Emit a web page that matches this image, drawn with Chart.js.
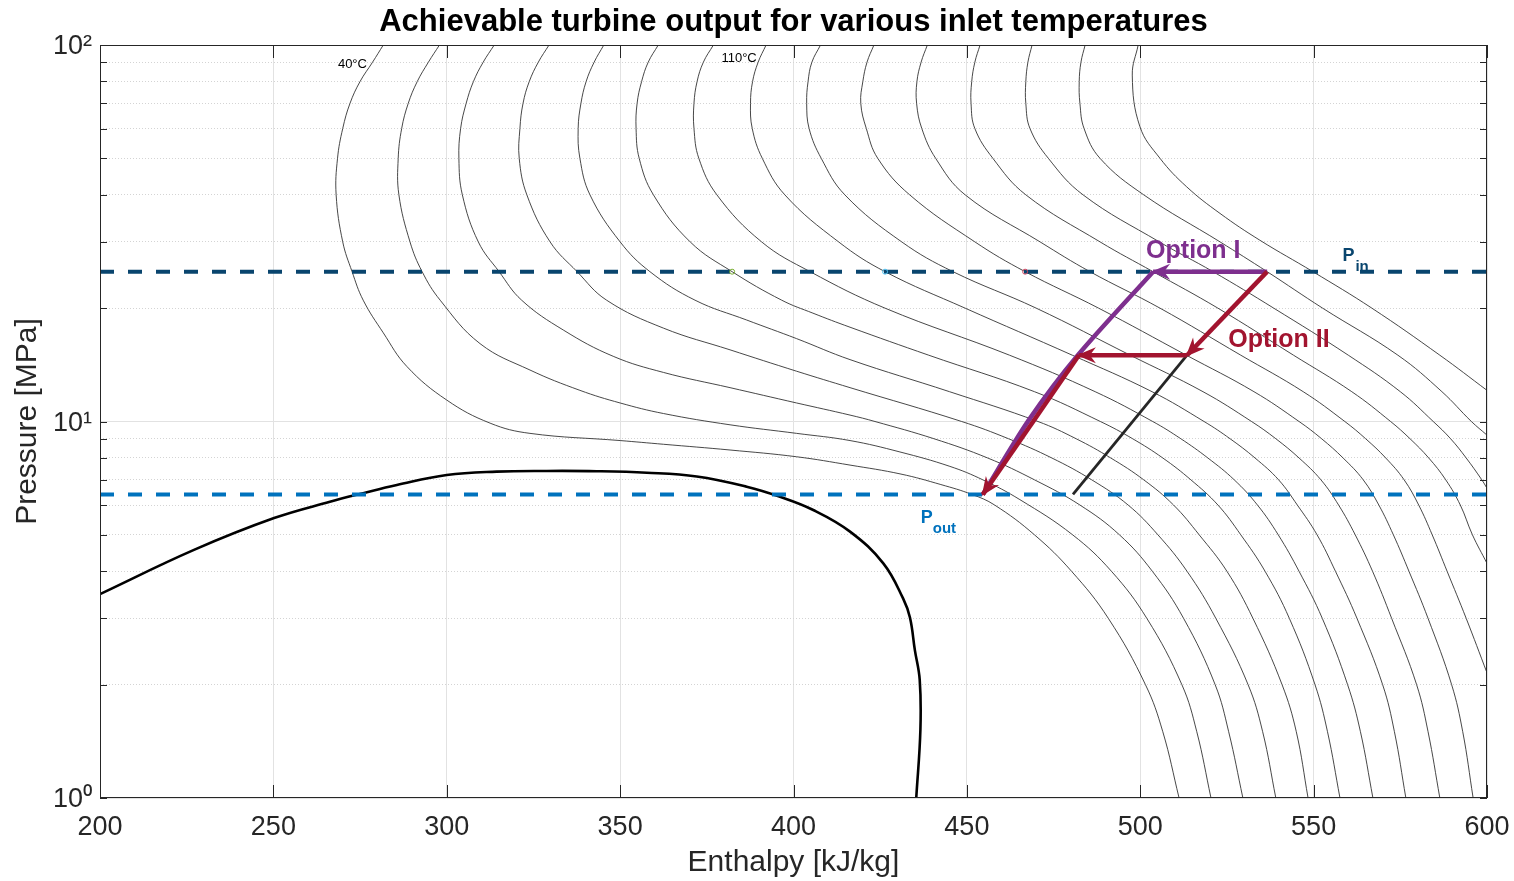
<!DOCTYPE html>
<html>
<head>
<meta charset="utf-8">
<title>Achievable turbine output</title>
<script src="https://cdn.jsdelivr.net/npm/chart.js@4.4.1/dist/chart.umd.min.js"></script>
<style>
  html, body { margin: 0; padding: 0; background: #fff; }
</style>
</head>
<body>
<canvas id="myChart" width="1514" height="881"></canvas>
<script>
// enthalpy [kJ/kg], pressure [MPa]
var chartTitle = 'Achievable turbine output for various inlet temperatures';
var xTicks = [200, 250, 300, 350, 400, 450, 500, 550, 600];
var yTicks = [1, 2, 3, 4, 5, 6, 7, 8, 9, 10, 20, 30, 40, 50, 60, 70, 80, 90, 100];
var yLabels = {1: '10\u2070', 10: '10\u00b9', 100: '10\u00b2'};

// isotherms, 40°C ... 180°C, [h, P]
var t40 = [[281.7,100],[278.6,90],[275.0,80],[272.1,70],[270.0,60],[268.5,50],[268.1,40],[270.0,30],[272.7,25],[275.9,21.0],[281.7,17.2],[288.5,14.0],[300.0,11.4],[312.5,9.9],[324.0,9.3],[350.0,8.9],[362.5,8.7],[381.7,8.4],[400.9,8.06],[416.3,7.66],[431.0,7.25],[442.5,6.8],[451.5,6.4],[458.0,6.0],[469.5,5.0],[480.2,4.0],[490.8,3.0],[501.5,2.0],[506.5,1.5],[511.2,1.0]];
var t50 = [[297.9,100],[294.7,90],[291.5,80],[288.9,70],[287.0,60],[286.0,50],[286.2,40],[289.4,30],[292.9,25],[298.1,21.0],[309.6,16.1],[324.0,13.7],[338.4,12.1],[350.0,11.2],[362.5,10.5],[381.7,9.8],[400.9,9.3],[416.3,8.9],[430.7,8.3],[445.1,7.6],[454.6,7.0],[465.3,6.2],[480.5,5.0],[491.7,4.0],[501.9,3.0],[512.0,2.0],[516.3,1.5],[520.4,1.0]];
var t60 = [[313.7,100],[310.5,90],[307.7,80],[305.6,70],[304.0,60],[303.5,50],[304.5,40],[309.1,30],[315.1,25],[321.6,21.0],[333.6,17.5],[348.0,14.9],[362.5,13.5],[381.7,12.3],[400.9,11.2],[416.3,10.4],[423.5,10],[440.5,9],[456.0,8],[469.5,7],[482.6,6],[494.0,5],[503.5,4],[512.5,3],[521.6,2],[525.5,1.5],[529.6,1]];
var t70 = [[329.5,100],[326.4,90],[323.8,80],[322.0,70],[321.1,60],[320.9,50],[323.1,40],[329.8,30],[337.6,25],[346.1,21.0],[362.5,17.7],[381.7,15.5],[400.9,13.6],[416.3,12.3],[448.5,10],[462.0,9],[474.5,8],[486.0,7],[496.5,6],[505.1,5],[513.5,4],[521.8,3],[531.1,2],[535.3,1.5],[539.1,1]];
var t80 = [[345.3,100],[342.5,90],[340.2,80],[338.7,70],[337.9,60],[338.4,50],[341.3,40],[350.0,30],[358.6,25],[371.6,21.0],[386.5,18.6],[400.9,16.6],[416.3,14.6],[445.0,12],[470.5,10],[481.5,9],[491.5,8],[501.0,7],[509.6,6],[517.0,5],[525.0,4],[532.5,3],[540.9,2],[545.0,1.5],[548.4,1]];
var t90 = [[361.0,100],[358.1,90],[356.2,80],[354.9,70],[354.6,60],[355.5,50],[359.6,40],[370.2,30],[382.3,25],[396.6,21.0],[405.6,19.4],[416.3,17.8],[439.0,15],[469.5,12],[488.5,10],[497.8,9],[506.5,8],[514.6,7],[522.4,6],[529.0,5],[536.0,4],[543.0,3],[550.4,2],[554.0,1.5],[557.6,1]];
var t100 = [[376.9,100],[374.0,90],[372.2,80],[371.3,70],[371.3,60],[372.7,50],[377.9,40],[390.8,30],[404.8,25],[426.4,20],[462.3,15],[487.0,12],[503.6,10],[511.7,9],[519.5,8],[527.1,7],[533.8,6],[539.8,5],[545.8,4],[552.5,3],[559.8,2],[563.5,1.5],[567.1,1]];
var t110 = [[392.1,100],[389.8,90],[388.2,80],[387.6,70],[388.1,60],[391.0,50],[397.5,40],[413.0,30],[426.4,25],[449.5,20],[480.4,15],[503.4,12],[518.4,10],[525.9,9],[533.1,8],[539.9,7],[545.3,6],[551.0,5],[556.3,4],[562.5,3],[569.9,2],[573.3,1.5],[576.6,1]];
var t120 = [[407.8,100],[405.3,90],[404.2,80],[403.8,70],[404.5,60],[408.0,50],[414.8,40],[431.2,30],[446.0,25],[470.0,20],[497.1,15],[518.1,12],[532.1,10],[539.1,9],[545.8,8],[552.1,7],[557.2,6],[562.0,5],[567.0,4],[572.5,3],[579.7,2],[583.0,1.5],[586.4,1]];
var t130 = [[423.2,100],[421.2,90],[420.0,80],[419.4,70],[421.0,60],[424.3,50],[433.5,40],[452.3,30],[466.8,25],[488.0,20],[513.3,15],[532.8,12],[545.8,10],[552.3,9],[558.5,8],[564.3,7],[568.8,6],[573.0,5],[577.5,4],[583.0,3],[589.8,2],[593.0,1.5],[596.0,1]];
var t140 = [[438.6,100],[436.8,90],[435.6,80],[435.5,70],[437.0,60],[441.0,50],[449.5,40],[471.1,30],[485.5,25],[505.7,20],[529.0,15],[547.0,12],[559.0,10],[565.0,9],[570.8,8],[576.1,7],[580.3,6],[584.2,5],[588.5,4],[594.0,3],[600,2.15]];
var t150 = [[453.8,100],[452.3,90],[451.4,80],[451.2,70],[452.3,60],[457.5,50],[467.0,40],[488.4,30],[503.7,25],[522.4,20],[544.2,15],[561.0,12],[572.2,10],[577.8,9],[583.2,8],[588.1,7],[592.3,6],[595.8,5],[600,4.2]];
var t160 = [[468.8,100],[467.6,90],[467.0,80],[467.0,70],[468.2,60],[473.5,50],[483.5,40],[505.5,30],[521.0,25],[538.5,20],[560.0,15],[575.0,12],[584.5,10],[589.5,9],[594.0,8],[598.5,7],[600,6.65]];
var t170 = [[484.1,100],[482.9,90],[482.4,80],[482.6,70],[483.8,60],[488.4,50],[501.0,40],[523.0,30],[536.6,25],[552.6,20],[574.3,15],[587.0,12],[595.5,10],[600,9.2]];
var t180 = [[499.4,100],[497.7,83.2],[499.9,60.7],[505.7,50.0],[513.4,42.0],[523.0,35.7],[534.5,30.3],[549.8,25],[566.8,20],[586.4,15],[600,12.1]];

var isotherms = [t40, t50, t60, t70, t80, t90, t100, t110, t120, t130, t140, t150, t160, t170, t180];

// saturation dome
var dome = [[200.0,3.48],[227.1,4.56],[250.2,5.54],[266.3,6.12],[275.9,6.45],[285.6,6.78],[300.0,7.21],[314.4,7.36],[328.8,7.39],[343.2,7.38],[357.7,7.31],[372.1,7.14],[386.5,6.71],[396.1,6.31],[405.7,5.82],[416.3,5.10],[425.9,4.20],[431.6,3.39],[433.6,3.01],[435.0,2.47],[436.4,2.06],[436.6,1.52],[435.4,1.0]];

var pIn = 25;
var pOut = 6.4;
var pInLine = [[200, pIn], [600, pIn]];
var pOutLine = [[200, pOut], [600, pOut]];

// expansion paths
var optionI_top = [[536.6,25],[503.7,25]];
var optionI_down = [[503.7,25],[482.0,15],[467.9,10.1],[454.6,6.4]];
var optionII_a = [[536.6,25],[513.5,15]];
var optionII_b = [[513.5,15],[482.3,15]];
var optionII_c = [[482.3,15],[454.6,6.4]];
var isentrope = [[513.5,15],[480.6,6.4]];

// small markers on the P_in line
var markGreen = [[382.3,25]];
var markBlue = [[426.4,25]];
var markRed = [[466.8,25]];

var FONT = "'Liberation Sans', Arial, Helvetica, sans-serif";
var AXIS_COLOR = '#262626';

Chart.defaults.font.family = FONT;

function arrowHead(ctx, x0, y0, x1, y1, color) {
    var ang = Math.atan2(y1 - y0, x1 - x0);
    ctx.save();
    ctx.translate(x1, y1);
    ctx.rotate(ang);
    ctx.fillStyle = color;
    ctx.beginPath();
    ctx.moveTo(2, 0);
    ctx.lineTo(-17, -8);
    ctx.lineTo(-11, 0);
    ctx.lineTo(-17, 8);
    ctx.closePath();
    ctx.fill();
    ctx.restore();
}

var arrows = {
    id: 'arrows',
    afterDatasetsDraw: function (chart) {
        var ctx = chart.ctx;
        chart.data.datasets.forEach(function (ds, i) {
            if (!ds.arrow) return;
            var pts = chart.getDatasetMeta(i).data;
            var a = pts[pts.length - 2], b = pts[pts.length - 1];
            arrowHead(ctx, a.x, a.y, b.x, b.y, ds.borderColor);
        });
    }
};

// MATLAB style box with inward ticks
var frame = {
    id: 'frame',
    afterDatasetsDraw: function (chart) {
        var ctx = chart.ctx, a = chart.chartArea;
        var x = chart.scales.x, y = chart.scales.y;
        ctx.save();
        ctx.strokeStyle = AXIS_COLOR;
        ctx.lineWidth = 1;
        ctx.beginPath();
        xTicks.forEach(function (v) {
            var px = Math.round(x.getPixelForValue(v)) + 0.5;
            ctx.moveTo(px, a.bottom); ctx.lineTo(px, a.bottom - 13);
            ctx.moveTo(px, a.top); ctx.lineTo(px, a.top + 13);
        });
        yTicks.forEach(function (v) {
            var py = Math.round(y.getPixelForValue(v)) + 0.5;
            ctx.moveTo(a.left, py); ctx.lineTo(a.left + 7, py);
            ctx.moveTo(a.right, py); ctx.lineTo(a.right - 7, py);
        });
        ctx.stroke();
        ctx.strokeRect(Math.round(a.left) + 0.5, Math.round(a.top) + 0.5,
            Math.round(a.right - a.left) - 1, Math.round(a.bottom - a.top) - 1);
        ctx.restore();
    }
};

var notes = {
    id: 'notes',
    afterDraw: function (chart) {
        var ctx = chart.ctx, a = chart.chartArea;
        var x = chart.scales.x, y = chart.scales.y;
        ctx.save();

        ctx.fillStyle = '#000';
        ctx.font = 'bold 31px ' + FONT;
        ctx.textAlign = 'center';
        ctx.textBaseline = 'middle';
        ctx.fillText(chartTitle, (a.left + a.right) / 2, 22);

        ctx.font = '13px ' + FONT;
        ctx.fillText('40\u00b0C', x.getPixelForValue(272.8), y.getPixelForValue(89.0));
        ctx.fillText('110\u00b0C', x.getPixelForValue(384.3), y.getPixelForValue(92.4));

        ctx.font = 'bold 25px ' + FONT;
        ctx.fillStyle = '#7E2F8E';
        ctx.fillText('Option I', x.getPixelForValue(515.3), y.getPixelForValue(28.4));
        ctx.fillStyle = '#A2142F';
        ctx.fillText('Option II', x.getPixelForValue(540.0), y.getPixelForValue(16.5));

        ctx.textAlign = 'left';
        ctx.textBaseline = 'alphabetic';
        var px = x.getPixelForValue(558.3), py = y.getPixelForValue(26.7);
        ctx.fillStyle = '#09456e';
        ctx.font = 'bold 18px ' + FONT;
        ctx.fillText('P', px, py);
        ctx.font = 'bold 15px ' + FONT;
        ctx.fillText('in', px + 13, py + 10);

        px = x.getPixelForValue(436.7); py = y.getPixelForValue(5.38);
        ctx.fillStyle = '#0072BD';
        ctx.font = 'bold 18px ' + FONT;
        ctx.fillText('P', px, py);
        ctx.font = 'bold 15px ' + FONT;
        ctx.fillText('out', px + 12, py + 10);

        ctx.restore();
    }
};

var datasets = [];

datasets.push({ data: optionII_c, borderColor: '#A2142F', borderWidth: 4.5, arrow: true, order: 1 });
datasets.push({ data: optionII_b, borderColor: '#A2142F', borderWidth: 4.5, arrow: true, order: 1 });
datasets.push({ data: optionII_a, borderColor: '#A2142F', borderWidth: 4.5, arrow: true, order: 1 });
datasets.push({ data: optionI_down, borderColor: '#7E2F8E', borderWidth: 4.5, tension: 0.3, order: 2 });
datasets.push({ data: optionI_top, borderColor: '#7E2F8E', borderWidth: 4.5, arrow: true, order: 2 });
datasets.push({ data: isentrope, borderColor: '#262626', borderWidth: 2.8, order: 3 });
datasets.push({ data: markGreen, showLine: false, pointRadius: 2.5, pointBorderWidth: 1, pointBorderColor: '#77AC30', pointBackgroundColor: 'rgba(0,0,0,0)', order: 3 });
datasets.push({ data: markBlue, showLine: false, pointRadius: 2.5, pointBorderWidth: 1, pointBorderColor: '#4DBEEE', pointBackgroundColor: 'rgba(0,0,0,0)', order: 3 });
datasets.push({ data: markRed, showLine: false, pointRadius: 2.5, pointBorderWidth: 1, pointBorderColor: '#D0455E', pointBackgroundColor: 'rgba(0,0,0,0)', order: 3 });
datasets.push({ data: pInLine, borderColor: '#09456e', borderWidth: 4, borderDash: [14, 14], order: 4 });
datasets.push({ data: pOutLine, borderColor: '#0072BD', borderWidth: 4, borderDash: [14, 14], order: 4 });
datasets.push({ data: dome, borderColor: '#000000', borderWidth: 2.6, tension: 0.4, order: 5 });

isotherms.forEach(function (iso) {
    datasets.push({ data: iso, borderColor: '#333333', borderWidth: 0.9, tension: 0.4, order: 6 });
});

var ctx = document.getElementById('myChart').getContext('2d');
var chart = new Chart(ctx, {
    type: 'line',
    data: { datasets: datasets },
    options: {
        responsive: false,
        animation: false,
        devicePixelRatio: 1,
        events: [],
        layout: { padding: { top: 45, right: 27, left: 0, bottom: 0 } },
        elements: { point: { radius: 0 }, line: { fill: false } },
        plugins: { legend: { display: false }, tooltip: { enabled: false }, title: { display: false } },
        scales: {
            x: {
                type: 'linear',
                min: 200,
                max: 600,
                afterBuildTicks: function (s) { s.ticks = xTicks.map(function (v) { return { value: v }; }); },
                afterFit: function (s) { s.height = 83; s.paddingLeft = 0; s.paddingRight = 0; },
                ticks: { color: AXIS_COLOR, font: { size: 27 }, padding: 13, autoSkip: false, maxRotation: 0 },
                grid: { color: '#e2e2e2', drawTicks: false },
                border: { display: false },
                title: { display: true, text: 'Enthalpy [kJ/kg]', color: AXIS_COLOR, font: { size: 30 }, padding: { top: 0, bottom: 0 } }
            },
            y: {
                type: 'logarithmic',
                min: 1,
                max: 100,
                afterBuildTicks: function (s) { s.ticks = yTicks.map(function (v) { return { value: v }; }); },
                afterFit: function (s) { s.width = 100; s.paddingTop = 0; s.paddingBottom = 0; },
                ticks: {
                    color: AXIS_COLOR, font: { size: 27 }, padding: 8, autoSkip: false, labelOffset: 2,
                    callback: function (v) { return yLabels[v] || ''; }
                },
                grid: {
                    drawTicks: false,
                    color: function (c) {
                        var v = c.tick ? c.tick.value : 0;
                        return (v === 1 || v === 10 || v === 100) ? '#e2e2e2' : '#d4d4d4';
                    }
                },
                border: {
                    display: false,
                    dash: function (c) {
                        var v = c.tick ? c.tick.value : 10;
                        return (v === 1 || v === 10 || v === 100) ? [] : [1, 2];
                    }
                },
                title: { display: true, text: 'Pressure [MPa]', color: AXIS_COLOR, font: { size: 30 }, padding: { top: 10, bottom: 0 } }
            }
        }
    },
    plugins: [arrows, frame, notes]
});
</script>
</body>
</html>
